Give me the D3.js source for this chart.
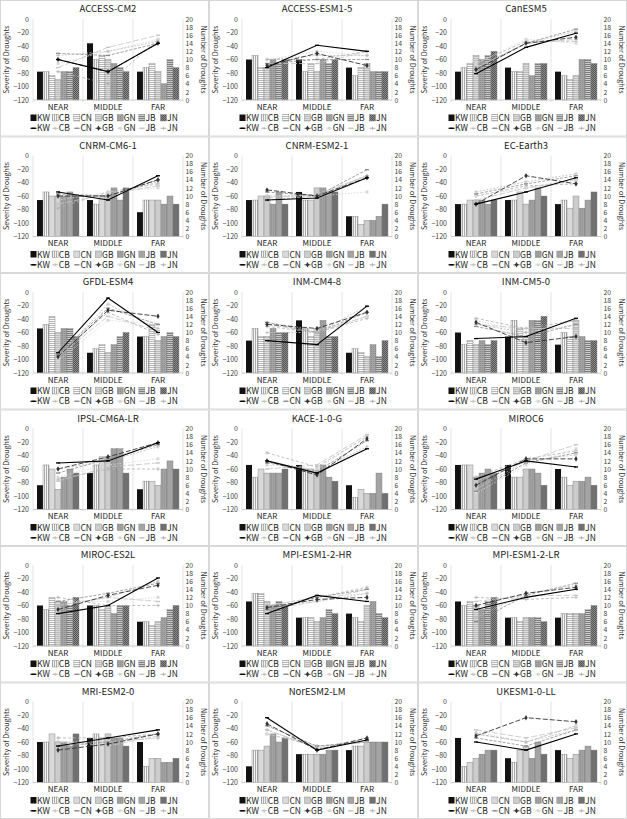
<!DOCTYPE html>
<html><head><meta charset="utf-8">
<script src="https://cdn.jsdelivr.net/npm/d3@7"></script>
<style>body{margin:0;background:#fff} text{font-family:"Noto Sans CJK KR","Noto Sans",sans-serif}</style>
</head><body><svg id="c" width="627" height="819"></svg>
<script>
const models = ["ACCESS-CM2","ACCESS-ESM1-5","CanESM5","CNRM-CM6-1","CNRM-ESM2-1","EC-Earth3","GFDL-ESM4","INM-CM4-8","INM-CM5-0","IPSL-CM6A-LR","KACE-1-0-G","MIROC6","MIROC-ES2L","MPI-ESM1-2-HR","MPI-ESM1-2-LR","MRI-ESM2-0","NorESM2-LM","UKESM1-0-LL"];
const periods = ["NEAR","MIDDLE","FAR"];
const seriesNames = ["KW","CB","CN","GB","GN","JB","JN"];
const severityTicks = [0,-20,-40,-60,-80,-100,-120];
const droughtTicks = [0,2,4,6,8,10,12,14,16,18,20];
// severity of droughts: per model, [NEAR, MIDDLE, FAR], each with KW,CB,CN,GB,GN,JB,JN
const severity = [
 [[-78,-78,-84,-90,-78,-78,-72],[-36,-60,-54,-60,-66,-72,-78],[-78,-72,-66,-78,-96,-60,-72]],
 [[-60,-54,-72,-72,-60,-66,-60],[-60,-78,-66,-78,-60,-66,-60],[-72,-84,-72,-66,-78,-78,-78]],
 [[-78,-72,-66,-54,-60,-54,-48],[-72,-78,-78,-66,-84,-66,-66],[-78,-84,-90,-84,-60,-60,-66]],
 [[-66,-54,-60,-60,-60,-54,-60],[-66,-72,-60,-60,-48,-66,-48],[-84,-66,-66,-66,-72,-60,-72]],
 [[-66,-66,-60,-60,-72,-54,-72],[-54,-66,-66,-48,-48,-54,-54],[-90,-90,-102,-96,-96,-90,-72]],
 [[-72,-72,-66,-66,-66,-72,-66],[-66,-66,-54,-72,-66,-48,-60],[-72,-66,-78,-60,-78,-66,-54]],
 [[-54,-48,-36,-60,-54,-54,-66],[-90,-84,-78,-90,-78,-66,-60],[-66,-66,-48,-72,-66,-60,-66]],
 [[-72,-54,-66,-66,-54,-60,-60],[-42,-54,-66,-54,-42,-66,-66],[-90,-84,-90,-96,-78,-96,-72]],
 [[-60,-78,-72,-78,-72,-78,-72],[-66,-42,-54,-66,-42,-42,-36],[-78,-60,-66,-42,-66,-72,-72]],
 [[-84,-54,-60,-90,-72,-60,-66],[-66,-54,-42,-42,-30,-30,-66],[-90,-78,-78,-84,-60,-48,-60]],
 [[-54,-72,-60,-66,-66,-66,-60],[-54,-60,-60,-66,-54,-72,-78],[-84,-102,-90,-96,-96,-66,-96]],
 [[-54,-54,-54,-72,-66,-60,-66],[-54,-72,-72,-60,-60,-66,-84],[-60,-72,-84,-78,-78,-72,-84]],
 [[-60,-66,-48,-54,-54,-60,-48],[-60,-60,-66,-60,-72,-60,-60],[-84,-84,-90,-84,-78,-66,-60]],
 [[-54,-42,-42,-54,-60,-54,-60],[-78,-78,-78,-84,-78,-66,-72],[-72,-78,-84,-60,-54,-72,-78]],
 [[-54,-60,-54,-60,-66,-54,-48],[-78,-78,-84,-78,-78,-78,-84],[-78,-72,-72,-72,-72,-66,-60]],
 [[-60,-60,-48,-60,-60,-66,-48],[-54,-48,-54,-48,-54,-54,-66],[-60,-96,-84,-84,-90,-90,-84]],
 [[-96,-72,-72,-66,-48,-60,-54],[-78,-78,-78,-78,-78,-72,-72],[-72,-66,-66,-60,-60,-60,-60]],
 [[-54,-96,-90,-84,-78,-72,-72],[-84,-90,-72,-66,-84,-60,-78],[-72,-78,-84,-78,-72,-66,-72]]
];
// number of droughts: per model, [NEAR, MIDDLE, FAR], each with KW,CB,CN,GB,GN,JB,JN
const droughts = [
 [[10,11,11.5,10,9,8,7],[7,12,11,7,12,13,4],[14,14.5,14,14,15,16,15]],
 [[8,10,9,8.5,10,9,10],[13.5,11,10,11.5,12,9,10],[12,11,10,8.5,11,12,12]],
 [[6.5,8,7.5,7.5,9,8,9],[13,14,14,14,15,14,14.5],[16.5,17,17.5,15.5,14,15,14.5]],
 [[11,10,10.5,10,9,8,7],[9,10,10,10,11,10.5,11],[15,13.5,14,14,12,12.5,13]],
 [[9,10,11,11.5,10,9.5,9],[9.5,10,10,10,10,10.5,10],[14.5,15,16.5,14.5,11,15,15]],
 [[8,11,10.5,8,10,9,10],[11,13.5,13,15,12,12,12.5],[14.5,15.5,15,13,13.5,14,13]],
 [[5,4,4.5,4,3,4,4.5],[18.5,17,16,15.5,13,14,15],[10,11,12,14,12,10.5,9.5]],
 [[8,10,12.5,12,12.5,12,11.5],[7,10,10,11,10.5,10,10],[16.5,16.5,15,15,14,14,13.5]],
 [[8.5,12,11.5,12.5,13,12,13.5],[9,10,9,7.5,10,11,11],[13.5,13,12,9,12,11,13]],
 [[11.5,10,9,10,8,7,7.5],[12,12,12.5,13,11,10.5,10],[16.5,15.5,16,16.5,12.5,11.5,10]],
 [[12,12,11.5,12,11,10,14],[9,9.5,9.5,8.5,10,11,10.5],[15,15.5,17,17.5,18,18.5,18]],
 [[7.5,5,4.5,6,4,7,8],[12,12,11.5,12.5,11,12,12.5],[10.5,13.5,14,12.5,15,16,14.5]],
 [[8,10,11,9,11,10,12],[10,12,13,12.5,11,12,10],[16.8,16,15.5,15,12,11,10]],
 [[8,10,9,9.5,10,9,10],[12.5,11,12,11.5,12,11,12],[11,13,14,12,13,14,14.5]],
 [[9,7,6,10,9,11,12],[12,13,12.5,13,12,12.5,11.5],[14,15,15.5,14.5,14,12.5,12]],
 [[9,10,9,8,10,10,11],[11,10,10,9.5,10,9,11],[13,11,12,12,11,11.5,12]],
 [[16,13,14,14.5,12,13,12],[8,8.5,9,8,9,8.5,9],[10.5,10,10,11,10,11,10]],
 [[10,12,11,11.5,12.5,13,12],[8,10,9,16,10,11,10],[12,13,13,15,14,13.5,14]]
];

const styles = {
 KW:{fill:"#111",line:"#000",w:1.1,dash:null,marker:"dash"},
 CB:{fill:"url(#pCB)",line:"#bdbdbd",w:0.8,dash:"2,1.5",marker:"cross"},
 CN:{fill:"url(#pCN)",line:"#8c8c8c",w:0.8,dash:"3,1.5",marker:"dash"},
 GB:{fill:"url(#pGB)",line:"#333",w:0.9,dash:"5,2",marker:"circle"},
 GN:{fill:"url(#pGN)",line:"#d6d6d6",w:0.8,dash:"1.5,1.5",marker:"square"},
 JB:{fill:"url(#pJB)",line:"#c4c4c4",w:0.8,dash:"6,2",marker:"dash"},
 JN:{fill:"url(#pJN)",line:"#b0b0b0",w:0.8,dash:"3,2",marker:"cross"}
};

const svg = d3.select("#c");
const defs = svg.append("defs");
function pat(id,w,h,bg,draw){const p=defs.append("pattern").attr("id",id).attr("patternUnits","userSpaceOnUse").attr("width",w).attr("height",h);
 p.append("rect").attr("width",w).attr("height",h).attr("fill",bg); draw(p);}
pat("pCB",2,2,"#f4f4f4",p=>p.append("rect").attr("x",0).attr("width",0.8).attr("height",2).attr("fill","#9a9a9a"));
pat("pCN",2,2,"#fafafa",p=>p.append("rect").attr("y",0).attr("width",2).attr("height",0.8).attr("fill","#a8a8a8"));
pat("pGB",2,2,"#dcdcdc",p=>p.append("rect").attr("y",0).attr("width",2).attr("height",0.8).attr("fill","#b4b4b4"));
pat("pGN",2,2,"#a3a3a3",p=>p.append("rect").attr("x",0).attr("y",0).attr("width",1).attr("height",1).attr("fill","#8e8e8e"));
pat("pJB",2,2,"#cacaca",p=>p.append("rect").attr("y",0).attr("width",2).attr("height",1).attr("fill","#7e7e7e"));
pat("pJN",2,2,"#8a8a8a",p=>{p.append("rect").attr("width",1).attr("height",1).attr("fill","#555");p.append("rect").attr("x",1).attr("y",1).attr("width",1).attr("height",1).attr("fill","#555");});

function drawMarker(g,type,x,y,col){
 if(type==="dash") g.append("rect").attr("x",x-2).attr("y",y-0.65).attr("width",4).attr("height",1.3).attr("fill",col);
 else if(type==="cross") g.append("path").attr("d",`M${x-1.8},${y}H${x+1.8}M${x},${y-1.8}V${y+1.8}`).attr("stroke",col).attr("stroke-width",0.8);
 else if(type==="circle") g.append("path").attr("d",d3.symbol(d3.symbolDiamond,9)()).attr("transform",`translate(${x},${y})`).attr("fill",col);
 else if(type==="square") g.append("rect").attr("x",x-1.4).attr("y",y-1.4).attr("width",2.8).attr("height",2.8).attr("fill",col);
}

const CW=209, CH=136.5;
const PL=33, PR=183, PT=19, PB=100;
const x0 = d3.scaleBand().domain(periods).range([PL,PR]).paddingInner(0).paddingOuter(0);
const x1 = d3.scaleBand().domain(seriesNames).range([0,x0.bandwidth()]).paddingInner(0).paddingOuter(0.67);
const yL = d3.scaleLinear().domain([-120,0]).range([PB,PT]);
const yR = d3.scaleLinear().domain([0,20]).range([PB,PT]);
const FF='"Noto Sans CJK KR","Noto Sans",sans-serif';

models.forEach((m,i)=>{
 const c=i%3, r=Math.floor(i/3);
 const g=svg.append("g").attr("transform",`translate(${c*CW},${r*CH})`);
 g.append("rect").attr("x",0.5).attr("y",0.5).attr("width",CW-1).attr("height",CH-1).attr("fill","#fff").attr("stroke","#cfcfcf").attr("stroke-width",0.8);
 g.append("text").attr("x",(PL+PR)/2).attr("y",12).attr("text-anchor","middle").attr("font-size",9.5).attr("fill","#222").text(m);
 const bounds=[PL].concat(periods.map(p=>x0(p)+x0.bandwidth()));
 g.selectAll("line.sep").data(bounds).join("line").attr("x1",d=>d).attr("x2",d=>d).attr("y1",PT).attr("y2",PB+2).attr("stroke","#d9d9d9").attr("stroke-width",0.7);
 periods.forEach((p,pi)=>{
   const vals=severity[i][pi];
   g.selectAll(null).data(seriesNames).join("rect")
    .attr("x",s=>x0(p)+x1(s)).attr("width",x1.bandwidth())
    .attr("y",(s,k)=>yL(vals[k])).attr("height",(s,k)=>yL(-120)-yL(vals[k]))
    .attr("fill",s=>styles[s].fill).attr("stroke",s=>s==="KW"?"none":"#7a7a7a").attr("stroke-width",0.4);
 });
 g.append("line").attr("x1",PL).attr("x2",PR).attr("y1",PB).attr("y2",PB).attr("stroke","#bfbfbf").attr("stroke-width",0.8);
 const order=["JN","JB","GN","CN","CB","GB","KW"];
 order.forEach(s=>{
   const k=seriesNames.indexOf(s), st=styles[s];
   const pts=periods.map((p,pi)=>[x0(p)+x0.bandwidth()/2, yR(droughts[i][pi][k])]);
   g.append("path").attr("d",d3.line()(pts)).attr("fill","none").attr("stroke",st.line).attr("stroke-width",st.w).attr("stroke-dasharray",st.dash);
   pts.forEach(q=>drawMarker(g,st.marker,q[0],q[1],st.line));
 });
 const aL=g.append("g").attr("transform",`translate(${PL},0)`).call(d3.axisLeft(yL).tickValues(severityTicks).tickSize(0).tickPadding(4));
 aL.select(".domain").remove();
 aL.selectAll("text").attr("font-size",7).attr("fill","#404040").style("font-family",FF);
 const aR=g.append("g").attr("transform",`translate(${PR},0)`).call(d3.axisRight(yR).tickValues(droughtTicks).tickSize(0).tickPadding(2.5));
 aR.select(".domain").remove();
 aR.selectAll("text").attr("font-size",6.8).attr("fill","#404040").style("font-family",FF);
 const aB=g.append("g").attr("transform",`translate(0,${PB})`).call(d3.axisBottom(x0).tickSize(0).tickPadding(4));
 aB.select(".domain").remove();
 aB.selectAll("text").attr("font-size",8).attr("fill","#222").style("font-family",FF);
 g.append("text").attr("transform",`translate(8.5,${(PT+PB)/2}) rotate(-90)`).attr("text-anchor","middle").attr("font-size",7.2).attr("fill","#333").text("Severity of Droughts");
 g.append("text").attr("transform",`translate(200.5,${(PT+PB)/2}) rotate(90)`).attr("text-anchor","middle").attr("font-size",7.2).attr("fill","#333").text("Number of Droughts");
 const lx=d3.scalePoint().domain(seriesNames).range([30.5,160.5]);
 seriesNames.forEach(s=>{
   const st=styles[s], x=lx(s);
   g.append("rect").attr("x",x).attr("y",114.5).attr("width",6).attr("height",6.5).attr("fill",st.fill).attr("stroke",s==="KW"?"none":"#7a7a7a").attr("stroke-width",0.4);
   g.append("text").attr("x",x+6.6).attr("y",121.2).attr("font-size",8.5).attr("fill","#222").text(s);
   g.append("line").attr("x1",x).attr("x2",x+6).attr("y1",128.3).attr("y2",128.3).attr("stroke",st.line).attr("stroke-width",st.w);
   drawMarker(g,st.marker,x+3,128.3,st.line);
   g.append("text").attr("x",x+6.6).attr("y",131.3).attr("font-size",8.5).attr("fill","#222").text(s);
 });
});
</script></body></html>
